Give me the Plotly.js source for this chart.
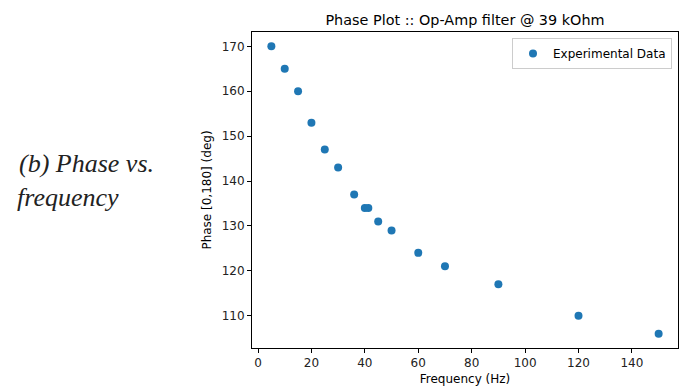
<!DOCTYPE html>
<html><head><meta charset="utf-8">
<script src="https://cdn.plot.ly/plotly-3.0.1.min.js"></script>
<style>html,body{margin:0;padding:0;background:#fff}#chart{width:686px;height:391px}</style>
</head><body><div id="chart"></div>
<script>
const frequency = [5, 10, 15, 20, 25, 30, 36, 40, 41.3, 45, 50, 60, 70, 90, 120, 150];
const phase = [170, 165, 160, 153, 147, 143, 137, 134, 134, 131, 129, 124, 121, 117, 110, 106];
const xTicks = [0, 20, 40, 60, 80, 100, 120, 140];
const yTicks = [110, 120, 130, 140, 150, 160, 170];

const L = 252, R = 678, T = 32, B = 348, W = 686, H = 391;
const pw = R - L, ph = B - T;
const font = "DejaVu Sans, sans-serif";

const trace = {
  x: frequency, y: phase, type: 'scatter', mode: 'markers',
  name: 'Experimental Data',
  marker: {color: '#1f77b4', size: 8}
};
const layout = {
  width: W, height: H,
  margin: {l: L, r: W - R, t: T, b: H - B},
  paper_bgcolor: '#fff', plot_bgcolor: '#fff',
  font: {family: font, color: '#000', size: 12},
  title: {text: 'Phase Plot :: Op-Amp filter @ 39 kOhm', font: {family: font, size: 14.4, color: '#000'},
          x: (L + R) / 2 / W, xanchor: 'center', y: 1 - 20 / H, yanchor: 'middle'},
  xaxis: {range: [-2.25, 157.25], tickvals: xTicks, ticktext: xTicks.map(String),
          showgrid: false, zeroline: false, showline: true, mirror: true, linecolor: '#000', linewidth: 1,
          ticks: 'outside', ticklen: 4, tickcolor: '#000', tickfont: {size: 12, family: font, color: '#222'},
          title: {text: 'Frequency (Hz)', font: {size: 12, family: font}, standoff: 5}},
  yaxis: {range: [102.8, 173.2], tickvals: yTicks, ticktext: yTicks.map(String),
          showgrid: false, zeroline: false, showline: true, mirror: true, linecolor: '#000', linewidth: 1,
          ticks: 'outside', ticklen: 4, tickcolor: '#000', tickfont: {size: 12, family: font, color: '#222'},
          title: {text: 'Phase [0,180] (deg)', font: {size: 12, family: font}, standoff: 7}},
  showlegend: true,
  legend: {x: (672 - L) / pw, xanchor: 'right', y: (B - 38) / ph, yanchor: 'top',
           bordercolor: '#cccccc', borderwidth: 1, bgcolor: 'rgba(255,255,255,0.8)',
           font: {size: 12, family: font, color: '#000'}},
  annotations: [
    {text: '<i>(b) Phase vs.</i>', xref: 'paper', yref: 'paper', x: (17 - L) / pw, xanchor: 'left',
     y: (B - 163) / ph, yanchor: 'middle', showarrow: false,
     font: {family: 'Liberation Serif, serif', size: 26, color: '#222'}},
    {text: '<i>frequency</i>', xref: 'paper', yref: 'paper', x: (15 - L) / pw, xanchor: 'left',
     y: (B - 197) / ph, yanchor: 'middle', showarrow: false,
     font: {family: 'Liberation Serif, serif', size: 26, color: '#222'}}
  ]
};
Plotly.newPlot('chart', [trace], layout, {displayModeBar: false, staticPlot: true});
</script></body></html>
